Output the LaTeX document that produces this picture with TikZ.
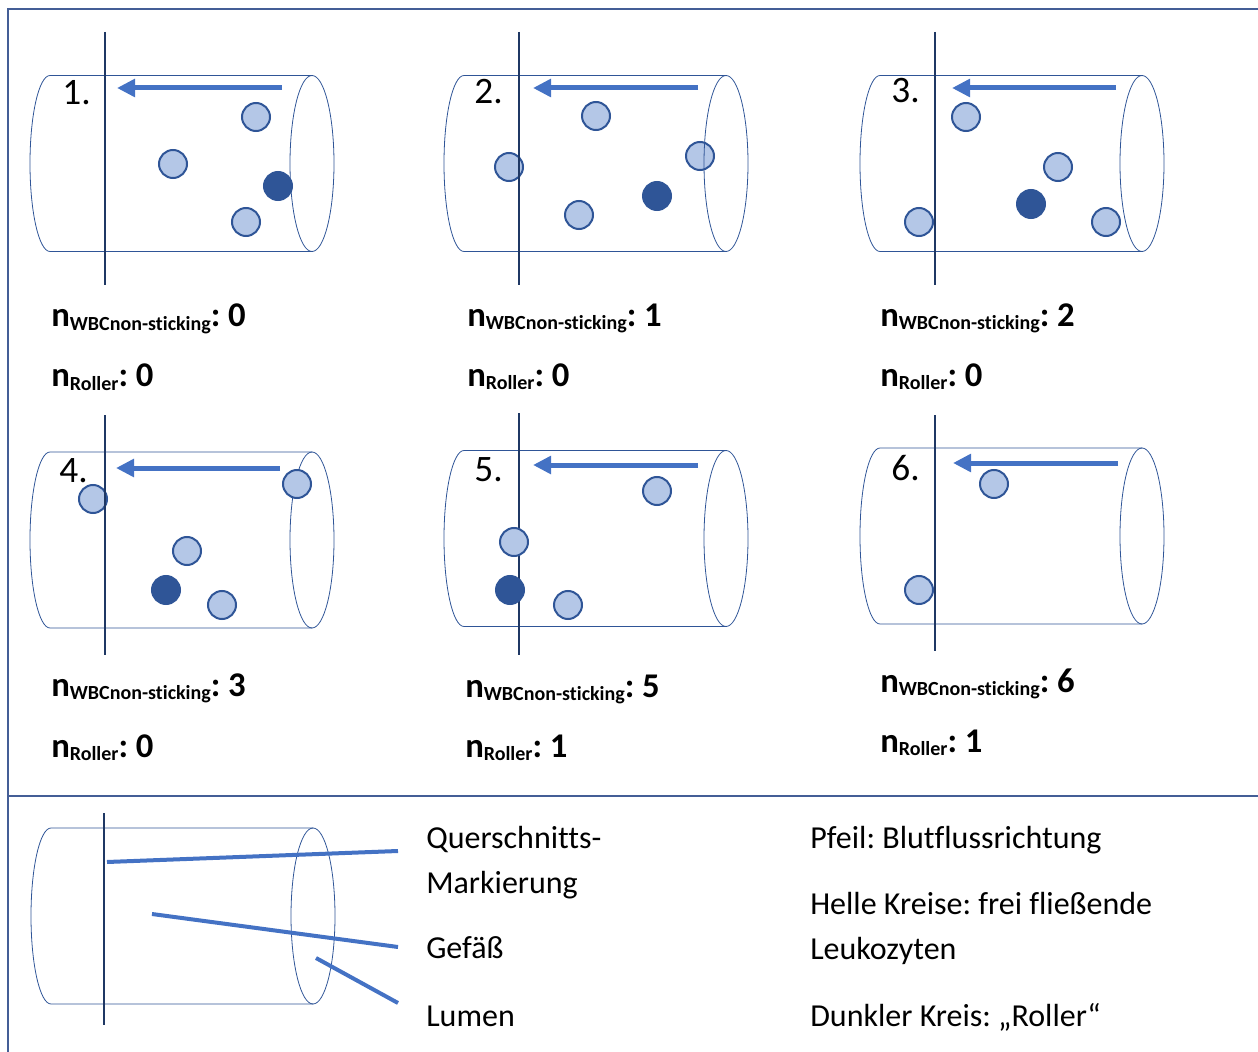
\documentclass[tikz,border=0pt]{standalone}
\usepackage{fontspec}
\setmainfont[Ligatures=NoCommon]{Carlito}
\usepackage{tikz}
\usetikzlibrary{arrows.meta}
\frenchspacing

\definecolor{frameblue}{RGB}{68,94,150}
\definecolor{vesselblue}{RGB}{47,85,151}
\definecolor{markerblue}{RGB}{31,56,100}
\definecolor{flowblue}{RGB}{68,114,196}
\definecolor{cellfill}{RGB}{180,199,231}
\definecolor{rollerfill}{RGB}{47,85,151}

% vessel outline: #1 = x shift, #2 = y of the axis
\newcommand{\vessel}[2]{%
  \draw[vesselline] (#1+312,#2-88) -- (#1+50,#2-88)
    arc[start angle=90, end angle=270, x radius=15pt, y radius=66pt] -- (#1+312,#2+88);
  \draw[vesselline] (#1+312,#2) ellipse[x radius=16.5pt, y radius=66pt];
}
% small subscript of the counters
\newcommand{\lblsub}[1]{\raisebox{-2.5pt}{\fontsize{15}{17}\selectfont #1}}

\begin{document}
\begin{tikzpicture}[x=0.75pt, y=-0.75pt,
  vesselline/.style={draw=vesselblue, line width=0.6pt},
  crossline/.style={draw=markerblue, line width=1.9pt},
  flow/.style={draw=flowblue, line width=3.75pt, -{Triangle[length=13.5pt, width=13pt]}},
  cell/.style={circle, draw=vesselblue, fill=cellfill, line width=1.5pt, minimum size=21pt, inner sep=0pt},
  roller/.style={cell, draw=rollerfill, fill=rollerfill},
  num/.style={font=\fontsize{28}{32}\selectfont, anchor=base east, inner sep=0pt},
  tally/.style={font=\bfseries\fontsize{26}{30}\selectfont, anchor=base west, inner sep=0pt},
  legtext/.style={font=\fontsize{24}{28}\selectfont, anchor=base west, inner sep=0pt},
  leader/.style={draw=flowblue, line width=3pt},
  panelframe/.style={draw=frameblue, line width=1.1pt}
]
\useasboundingbox (0,0) rectangle (1258,1052);

% frame
\draw[panelframe] (8,1052) -- (8,9) -- (1258,9);
\draw[panelframe] (8,796) -- (1258,796);

% 1.
\vessel{0}{163.5}
\node[cell] (c1a) at (256,117) {};
\node[cell] (c1b) at (173,164) {};
\node[cell] (c1c) at (246,222) {};
\node[roller] (r1) at (278,186) {};
\draw[crossline] (105,32) -- (105,285);
\draw[flow] (282,88) -- (117,88);
\node[num] (n1) at (91,105) {1.};
\node[tally] (w1) at (51,327) {n\lblsub{WBCnon-sticking}: 0};
\node[tally] (k1) at (51,387) {n\lblsub{Roller}: 0};

% 2.
\node[cell] (c2a) at (596,116) {};
\node[cell] (c2b) at (509,167) {};
\node[cell] (c2c) at (700,156) {};
\node[cell] (c2d) at (579,215) {};
\node[roller] (r2) at (657,196) {};
\vessel{414}{163.5}
\draw[crossline] (519,32) -- (519,285);
\draw[flow] (698,88) -- (533,88);
\node[num] (n2) at (503,104) {2.};
\node[tally] (w2) at (467,326) {n\lblsub{WBCnon-sticking}: 1};
\node[tally] (k2) at (467,386) {n\lblsub{Roller}: 0};

% 3.
\vessel{830}{163.5}
\node[cell] (c3a) at (966,117) {};
\node[cell] (c3b) at (1058,167) {};
\node[cell] (c3c) at (919,222) {};
\node[cell] (c3d) at (1106,222) {};
\node[roller] (r3) at (1031,204) {};
\draw[crossline] (935,32) -- (935,285);
\draw[flow] (1116,88) -- (952,88);
\node[num] (n3) at (920,103) {3.};
\node[tally] (w3) at (880,326) {n\lblsub{WBCnon-sticking}: 2};
\node[tally] (k3) at (880,386) {n\lblsub{Roller}: 0};

% 4.
\vessel{0}{540}
\node[cell] (c4a) at (93,499) {};
\node[cell] (c4b) at (297,484) {};
\node[cell] (c4c) at (187,551) {};
\node[cell] (c4d) at (222,605) {};
\node[roller] (r4) at (166,590) {};
\draw[crossline] (105,415) -- (105,655);
\draw[flow] (280,468) -- (116,468);
\node[num] (n4) at (88,482) {4.};
\node[tally] (w4) at (51,696) {n\lblsub{WBCnon-sticking}: 3};
\node[tally] (k4) at (51,757) {n\lblsub{Roller}: 0};

% 5.
\vessel{414}{538.5}
\draw[crossline] (519,413) -- (519,655);
\node[cell] (c5a) at (657,491) {};
\node[cell] (c5b) at (514,542) {};
\node[cell] (c5c) at (568,605) {};
\node[roller] (r5) at (510,590) {};
\draw[flow] (698,465) -- (533,465);
\node[num] (n5) at (503,481) {5.};
\node[tally] (w5) at (465,697) {n\lblsub{WBCnon-sticking}: 5};
\node[tally] (k5) at (465,757) {n\lblsub{Roller}: 1};

% 6.
\vessel{830}{536}
\node[cell] (c6a) at (994,484) {};
\node[cell] (c6b) at (919,590) {};
\draw[crossline] (935,415) -- (935,651);
\draw[flow] (1118,463) -- (953,463);
\node[num] (n6) at (920,480) {6.};
\node[tally] (w6) at (880,692) {n\lblsub{WBCnon-sticking}: 6};
\node[tally] (k6) at (880,752) {n\lblsub{Roller}: 1};

% legend
\vessel{1}{916}
\draw[crossline] (104,813) -- (104,1025);
\coordinate (qsA) at (107,862);
\coordinate (qsB) at (398,851);
\coordinate (gfA) at (152,914);
\coordinate (gfB) at (398,947);
\coordinate (luA) at (316,958);
\coordinate (luB) at (398,1003);
\draw[leader] (qsA) -- (qsB);
\draw[leader] (gfA) -- (gfB);
\draw[leader] (luA) -- (luB);
\node[legtext] (qs) at (426,848) {Querschnitts-};
\node[legtext] (mk) at (426,893) {Markierung};
\node[legtext] (gf) at (426,958) {Gefäß};
\node[legtext] (lu) at (426,1026) {Lumen};
\node[legtext] (pf) at (810,848) {Pfeil: Blutflussrichtung};
\node[legtext] (hk) at (810,914) {Helle Kreise: frei fließende};
\node[legtext] (lk) at (810,959) {Leukozyten};
\node[legtext] (dk) at (810,1026) {Dunkler Kreis: „Roller“};
\end{tikzpicture}
\end{document}
